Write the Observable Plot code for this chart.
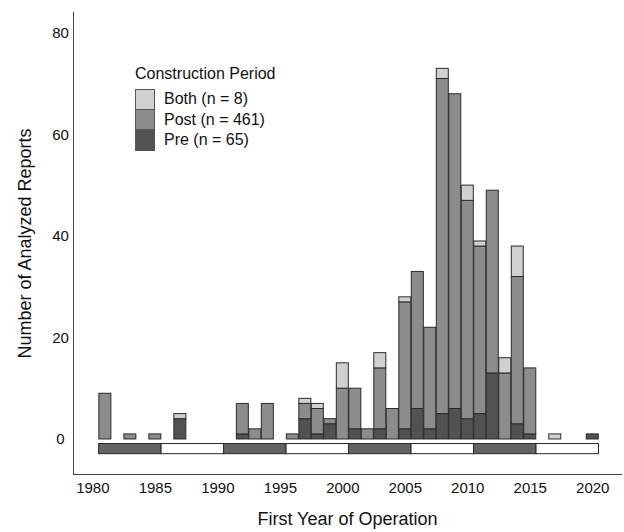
<!DOCTYPE html>
<html>
<head>
<meta charset="utf-8">
<script src="https://cdn.jsdelivr.net/npm/d3@7"></script>
<script src="https://cdn.jsdelivr.net/npm/@observablehq/plot@0.6"></script>
<style>
  html, body { margin: 0; padding: 0; background: #fff; }
  #wrap { position: relative; width: 624px; height: 532px; font-family: "Liberation Sans", Arial, sans-serif; }
  #legend { position: absolute; left: 135px; top: 64px; color: #111; }
  #legend .title { font-size: 16px; line-height: 20px; margin-bottom: 5px; }
  #legend .row { display: flex; align-items: center; height: 20.5px; }
  #legend .sw { width: 18px; height: 19px; border: 1px solid #555; box-sizing: content-box; margin-right: 9px; }
  #legend .lab { font-size: 16px; }
</style>
</head>
<body>
<div id="wrap">
  <div id="chart"></div>
  <div id="legend"></div>
</div>
<script>
const years = [1981,1983,1985,1987,1992,1993,1994,1996,1997,1998,1999,2000,2001,2002,2003,2004,2005,2006,2007,2008,2009,2010,2011,2012,2013,2014,2015,2017,2020];
const pre   = [0,0,0,4,1,0,0,0,4,1,3,0,2,0,2,0,2,6,2,5,6,4,5,13,0,3,1,0,1];
const post  = [9,1,1,0,6,2,7,1,3,5,1,10,8,2,12,6,25,27,20,66,62,43,33,36,13,29,13,0,0];
const both  = [0,0,0,1,0,0,0,0,1,1,0,5,0,0,3,0,1,0,0,2,0,3,1,0,3,6,0,1,0];
const seriesNames = ["Pre", "Post", "Both"];
const legendLabels = ["Both (n = 8)", "Post (n = 461)", "Pre (n = 65)"];
const legendOrder = ["Both", "Post", "Pre"];
const periodStarts = [1980,1985,1990,1995,2000,2005,2010,2015];
const yTicks = [0,20,40,60,80];
const xTicks = [1980,1985,1990,1995,2000,2005,2010,2015,2020];

const colors = {Pre: "#525252", Post: "#8c8c8c", Both: "#d0d0d0"};

// build stacked rect table
const rows = [];
years.forEach((yr, i) => {
  let base = 0;
  const vals = {Pre: pre[i], Post: post[i], Both: both[i]};
  for (const s of seriesNames) {
    const v = vals[s];
    if (v > 0) {
      rows.push({year: yr, series: s, y1: base, y2: base + v});
      base += v;
    }
  }
});
const halfW = 0.48;

const periods = periodStarts.map((s, i) => ({start: s + 0.5, end: s + 5.5, dark: i % 2 === 0}));

const plot = Plot.plot({
  width: 624,
  height: 532,
  marginLeft: 73,
  marginRight: 3,
  marginTop: 12,
  marginBottom: 58,
  style: {fontFamily: "'Liberation Sans', Arial, sans-serif", color: "#111", background: "#fff"},
  x: {domain: [1978.45, 2022.3]},
  y: {domain: [-6.9, 84.1]},
  marks: [
    Plot.rect(rows, {
      x1: d => d.year - halfW, x2: d => d.year + halfW,
      y1: "y1", y2: "y2",
      fill: d => colors[d.series],
      stroke: "#2b2b2b", strokeWidth: 1
    }),
    Plot.rect(periods, {
      x1: "start", x2: "end", y1: -0.9, y2: -2.9,
      fill: d => d.dark ? "#636363" : "#ffffff",
      stroke: "#2b2b2b", strokeWidth: 1
    }),
    Plot.frame({anchor: "left", stroke: "#444"}),
    Plot.frame({anchor: "bottom", stroke: "#444"}),
    Plot.axisY({ticks: yTicks, tickSize: 0, tickPadding: 13, textAnchor: "middle", fontSize: 15, label: null, fill: "#111"}),
    Plot.axisX({ticks: xTicks, tickSize: 0, tickPadding: 8, tickFormat: d => String(d), fontSize: 15, label: null, fill: "#111"}),
    Plot.text(["First Year of Operation"], {frameAnchor: "bottom", textAnchor: "middle", lineAnchor: "middle", dy: 45, fontSize: 18, fill: "#111"}),
    Plot.text(["Number of Analyzed Reports"], {frameAnchor: "left", textAnchor: "middle", lineAnchor: "middle", dx: -48, rotate: -90, fontSize: 18, fill: "#111"})
  ]
});
document.getElementById("chart").appendChild(plot);

const lg = document.getElementById("legend");
const t = document.createElement("div");
t.className = "title";
t.textContent = "Construction Period";
lg.appendChild(t);
legendOrder.forEach((s, i) => {
  const r = document.createElement("div");
  r.className = "row";
  const sw = document.createElement("div");
  sw.className = "sw";
  sw.style.background = colors[s];
  const lab = document.createElement("span");
  lab.className = "lab";
  lab.textContent = legendLabels[i];
  r.appendChild(sw);
  r.appendChild(lab);
  lg.appendChild(r);
});
</script>
</body>
</html>
